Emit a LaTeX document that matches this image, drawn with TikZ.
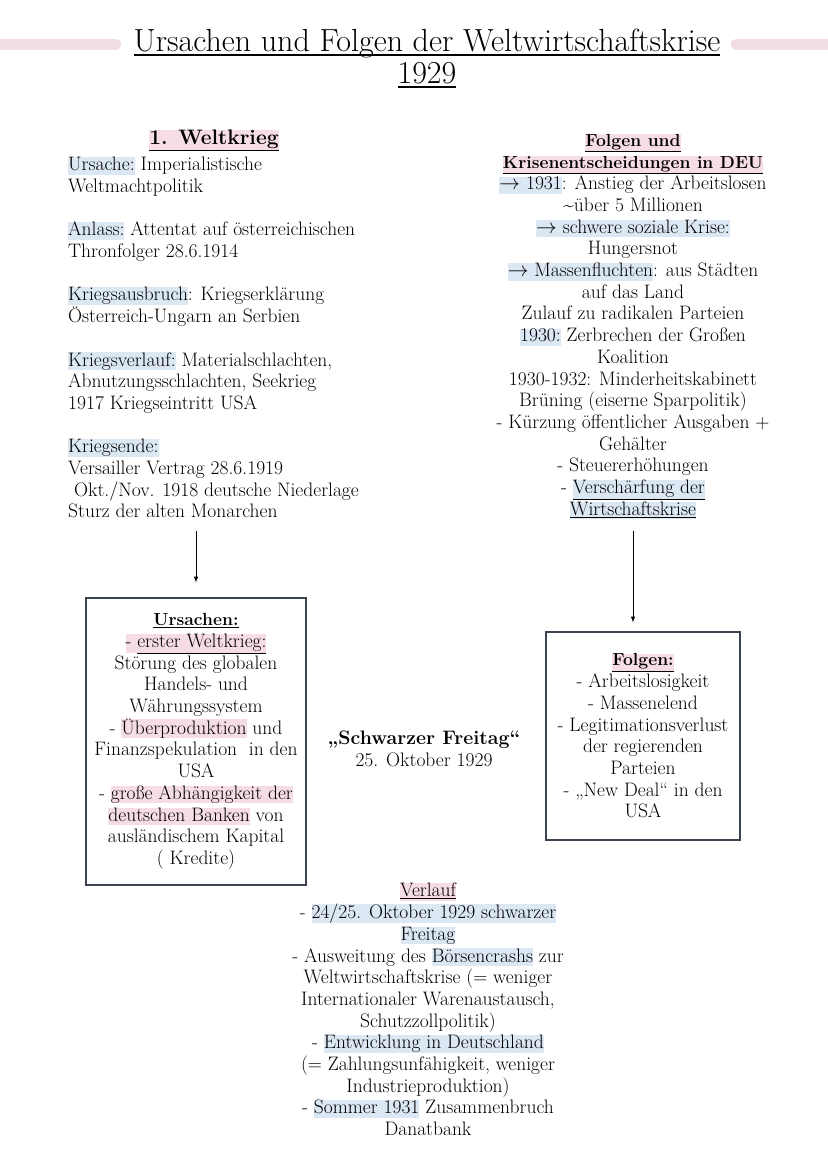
\documentclass[tikz,border=0pt]{standalone}
\usepackage{xcolor}
\usepackage{tikz}

\definecolor{hlblue}{HTML}{DCE7F4}
\definecolor{hlpink}{HTML}{F6DCE5}
\definecolor{barpink}{HTML}{F3DDE4}
\definecolor{boxline}{HTML}{3B4250}
\newcommand{\hlb}[1]{{\setlength{\fboxsep}{0pt}\colorbox{hlblue}{\rule[-4pt]{0pt}{14pt}#1}}}
\newcommand{\hlp}[1]{{\setlength{\fboxsep}{0pt}\colorbox{hlpink}{\rule[-4pt]{0pt}{14pt}#1}}}
\newcommand{\thickul}[1]{\setbox0\hbox{#1}\rlap{\rule[-4.5pt]{\wd0}{2.2pt}}\box0}
\newcommand{\bodyfont}{\fontsize{19.5}{21.7}\selectfont}
\newcommand{\headfont}{\fontsize{17.5}{21.7}\selectfont\bfseries}
\newcommand{\titlefont}{\fontsize{32}{32}\selectfont}

\begin{document}
\begin{tikzpicture}[x=10pt,y=10pt]
					\tikzstyle{every node}+=[inner sep=0pt]
					\tikzstyle{txt}=[font=\bodyfont, align=center]
					\tikzstyle{notebox}=[txt, draw=boxline, line width=1.2pt]
					\useasboundingbox (0,0) rectangle (82.8,-117.1);
					% title with pink bars
					\draw [barpink, line width=11pt, line cap=round] (0,-4.45) -- (11.6,-4.45);
					\draw [barpink, line width=11pt, line cap=round] (73.6,-4.45) -- (82.8,-4.45);
					\node [font=\titlefont, align=center] (title) at (42.7,-5.9) {\thickul{Ursachen und Folgen der Weltwirtschaftskrise}\\\thickul{1929}};
					% left column
					\node [txt, font=\fontsize{21}{22}\selectfont\bfseries] (weltkrieg) at (21.4,-14.0) {\hlp{\underline{1. Weltkrieg}}};
					\node [txt, align=left, anchor=north west] (ww) at (6.8,-15.7) {\hlb{Ursache:} Imperialistische\\
						Weltmachtpolitik\\[21.7pt]
						\hlb{Anlass:} Attentat auf österreichischen\\
						Thronfolger 28.6.1914\\[21.7pt]
						\hlb{Kriegsausbruch}: Kriegserklärung\\
						Österreich-Ungarn an Serbien\\[21.7pt]
						\hlb{Kriegsverlauf:} Materialschlachten,\\
						Abnutzungsschlachten, Seekrieg\\
						1917 Kriegseintritt USA\\[21.7pt]
						\hlb{Kriegsende:}\\
						Versailler Vertrag 28.6.1919\\
						\ Okt./Nov. 1918 deutsche Niederlage\\
						Sturz der alten Monarchen};
					% right column
					\node [txt, anchor=north] (folgen) at (63.3,-13.4) {\hlp{\underline{\headfont Folgen und}}\\
						\hlp{\underline{\headfont Krisenentscheidungen in DEU}}\\
						\hlb{$\rightarrow$ 1931}: Anstieg der Arbeitslosen\\
						\textasciitilde über 5 Millionen\\
						\hlb{$\rightarrow$ schwere soziale Krise:}\\
						Hungersnot\\
						\hlb{$\rightarrow$ Massenfluchten}: aus Städten\\
						auf das Land\\
						Zulauf zu radikalen Parteien\\
						\hlb{1930:} Zerbrechen der Großen\\
						Koalition\\
						1930-1932: Minderheitskabinett\\
						Brüning (eiserne Sparpolitik)\\
						- Kürzung öffentlicher Ausgaben +\\
						Gehälter\\
						- Steuererhöhungen\\
						- \hlb{\underline{Verschärfung der}}\\
						\hlb{\underline{Wirtschaftskrise}}};
					% boxes
					\node [notebox, minimum width=220pt, minimum height=287pt] (ursachen) at (19.6,-74.15) {\underline{\headfont Ursachen:}\\
						\hlp{- \underline{erster Weltkrieg:}}\\
						Störung des globalen\\
						Handels- und\\
						Währungssystem\\
						- \hlp{Überproduktion} und\\
						Finanzspekulation \ in den\\
						USA\\
						- \hlp{große Abhängigkeit der}\\
						\hlp{deutschen Banken} von\\
						ausländischem Kapital\\
						( Kredite)};
					\node [notebox, minimum width=194pt, minimum height=208pt] (folgenbox) at (64.3,-73.6) {\hlp{\underline{\headfont Folgen:}}\\
						- Arbeitslosigkeit\\
						- Massenelend\\
						- Legitimationsverlust\\
						der regierenden\\
						Parteien\\
						- „New Deal“ in den\\
						USA};
					\node [txt] (freitag) at (42.4,-74.9) {\textbf{„Schwarzer Freitag“}\\25. Oktober 1929};
					\node [txt] (verlauf) at (42.8,-100.95) {\hlp{\underline{Verlauf}}\\
						- \hlb{24/25. Oktober 1929 schwarzer}\\
						\hlb{Freitag}\\
						- Ausweitung des \hlb{Börsencrashs} zur\\
						Weltwirtschaftskrise (= weniger\\
						Internationaler Warenaustausch,\\
						Schutzzollpolitik)\\
						- \hlb{Entwicklung in Deutschland}\\
						(= Zahlungsunfähigkeit, weniger\\
						Industrieproduktion)\\
						- \hlb{Sommer 1931} Zusammenbruch\\
						Danatbank};
					% arrows
					\draw [-latex, line width=1pt, shorten <=13pt, shorten >=15pt] (ursachen.north |- ww.south) -- (ursachen.north);
					\draw [-latex, line width=1pt, shorten <=12pt, shorten >=9pt] (folgen.south) -- (folgen.south |- folgenbox.north);
				\end{tikzpicture}
\end{document}
